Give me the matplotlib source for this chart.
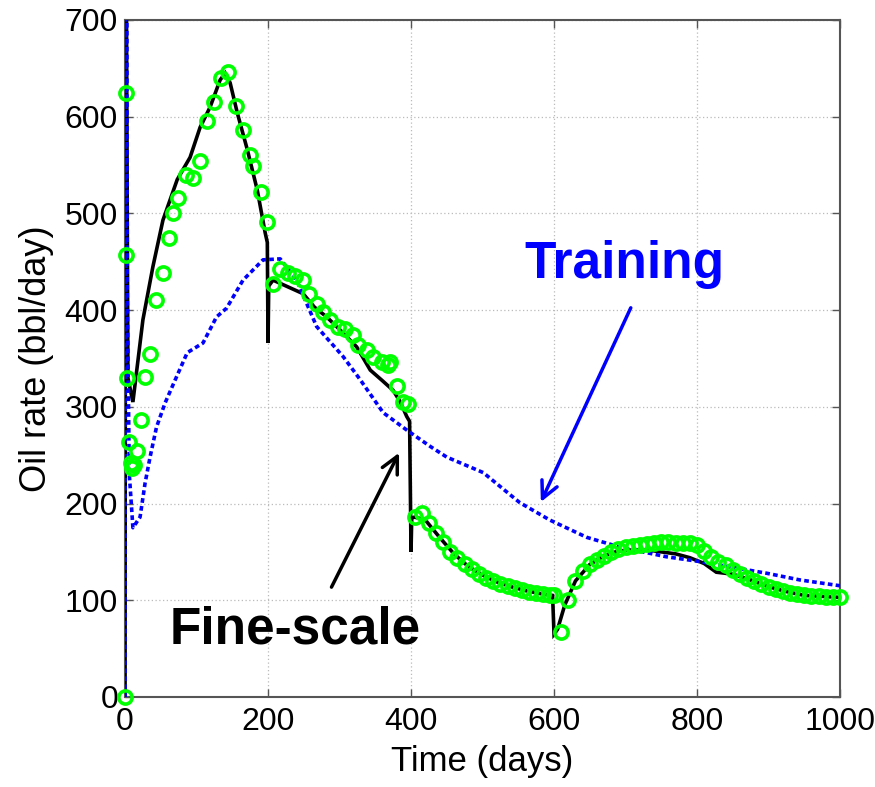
import matplotlib
matplotlib.use("Agg")
import matplotlib.pyplot as plt

# ---------------- data ----------------
fine_t = [0, 1, 4, 11, 25, 39, 53, 73, 91, 105, 119, 133, 140, 147, 157, 171, 185, 196, 199, 200,
          201, 207, 225, 249, 265, 282, 300, 324, 343, 360, 375, 385, 394, 398, 400, 401, 405,
          420, 440, 460, 480, 500, 520, 540, 560, 580, 598, 600, 605, 615, 630, 650, 670, 690,
          710, 730, 750, 770, 790, 810, 827, 850, 875, 900, 925, 950, 975, 1000]
fine_q = [0, 900, 330, 305, 390, 445, 493, 535, 558, 589, 610, 638, 645, 635, 604, 566, 524, 480, 470, 366,
          425, 431, 425, 417, 403, 393, 380, 362, 338, 327, 317, 305, 290, 285, 150, 185, 186,
          183, 165, 148, 135, 126, 119, 114, 110, 107, 105, 65, 70, 95, 120, 137, 146, 151,
          152, 152, 150, 148, 144, 138, 129, 127, 121, 114, 109, 105, 104, 103]

coarse_t = [0, 0.5, 3, 6, 11, 21, 28, 35, 44, 56, 72, 87, 109, 128, 142, 165, 193, 217, 240, 268,
            305, 329, 361, 394, 427, 450, 501, 552, 594, 646, 692, 757, 804, 850, 897, 944, 1000]
coarse_q = [0, 2000, 420, 230, 175, 186, 221, 248, 279, 304, 331, 356, 366, 393, 402, 431, 452, 453, 431, 383,
            352, 328, 294, 276, 259, 248, 232, 201, 183, 165, 155, 145, 140, 134, 128, 121, 115]

circ_t = [0, 1, 2, 3, 5, 8, 10, 13, 17, 22, 28, 35, 44, 53, 62, 67, 74, 85, 95, 105, 115, 124, 134, 144,
          155, 165, 175, 179, 190, 198, 207, 217, 228, 238, 249, 257, 268, 277, 287, 298, 308, 319, 326,
          338, 347, 359, 368, 371, 380, 389, 396,
          405, 415, 425, 435, 445, 455, 465, 475, 485, 495, 505, 515, 525, 535, 545, 555, 565, 575, 585, 595,
          600, 610, 620, 630, 640, 650, 660, 670, 680, 690, 700, 710, 720, 730, 740, 750, 760, 770, 780,
          790, 800, 810, 820, 830, 840, 850, 860, 870, 880, 890, 900, 910, 920, 930, 940, 950, 960, 970,
          980, 990, 1000]
circ_q = [0, 625, 457, 330, 264, 242, 237, 240, 254, 286, 331, 355, 410, 438, 475, 500, 516, 540, 537, 554, 596, 615, 640, 646,
          611, 586, 560, 549, 522, 491, 427, 443, 438, 435, 431, 417, 406, 398, 390, 383, 380, 374, 364,
          359, 352, 346, 343, 346, 322, 305, 303,
          186, 190, 180, 170, 160, 150, 144, 138, 132, 127, 123, 120, 117, 115, 113, 111, 109, 107, 106, 105,
          105, 67, 100, 120, 130, 137, 142, 146, 150, 153, 155, 156, 157, 158, 159, 160, 160, 159, 159,
          159, 157, 151, 145, 140, 136, 131, 127, 123, 120, 117, 114, 112, 110, 108, 106, 105, 104, 104,
          103, 103, 103]

x_ticks = [0, 200, 400, 600, 800, 1000]
y_ticks = [0, 100, 200, 300, 400, 500, 600, 700]

# ---------------- plot ----------------
plt.rcParams['font.family'] = ['Liberation Sans', 'DejaVu Sans']

fig = plt.figure(figsize=(8.75, 7.87), dpi=100)
ax = fig.add_axes([0.1429, 0.1144, 0.8171, 0.8602])

ax.plot(fine_t, fine_q, color='black', lw=2.6, solid_joinstyle='miter', zorder=3)
ax.plot(coarse_t, coarse_q, color='#0000ff', lw=2.6, linestyle=(0, (1.3, 0.9)), zorder=4)
ax.plot(circ_t, circ_q, linestyle='none', marker='o', markersize=9.5, markerfacecolor='none',
        markeredgecolor='#00ff00', markeredgewidth=2.6, zorder=5, clip_on=False)

ax.set_xlim(0, 1000)
ax.set_ylim(0, 700)
ax.set_xticks(x_ticks)
ax.set_yticks(y_ticks)
ax.tick_params(direction='in', length=6, width=1, top=True, right=True, labelsize=23,
               colors='#555555', labelcolor='black', pad=7)
ax.tick_params(axis='y', pad=5)
for s in ax.spines.values():
    s.set_color('#555555')
    s.set_linewidth(1.5)
ax.grid(True, linestyle=(0, (1, 2)), color='#bbbbbb', linewidth=0.9)
ax.set_axisbelow(True)

ax.set_xlabel('Time (days)', fontsize=25, labelpad=6)
ax.set_ylabel('Oil rate (bbl/day)', fontsize=26, labelpad=8)

ax.annotate('', xy=(580, 199), xytext=(709, 405),
            arrowprops=dict(arrowstyle='->', color='#0000ff', lw=2.5, mutation_scale=30), zorder=6)
ax.text(699, 447, 'Training', color='#0000ff', fontsize=37, fontweight='bold',
        ha='center', va='center', zorder=6)

ax.annotate('', xy=(385, 255), xytext=(287, 111),
            arrowprops=dict(arrowstyle='->', color='black', lw=2.5, mutation_scale=30), zorder=6)
ax.text(238, 69, 'Fine-scale', color='black', fontsize=37, fontweight='bold',
        ha='center', va='center', zorder=6)

fig.savefig('out.png', dpi=100)
